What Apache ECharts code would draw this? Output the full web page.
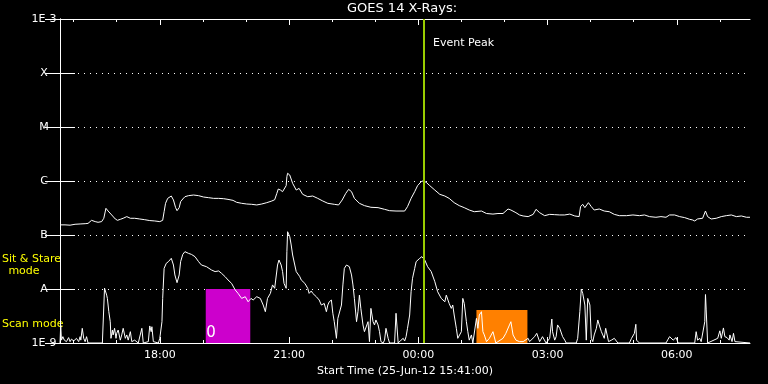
<!DOCTYPE html>
<html>
<head>
<meta charset="utf-8">
<script src="https://cdn.jsdelivr.net/npm/echarts@6/dist/echarts.min.js"></script>
<style>
html,body{margin:0;padding:0;background:#000;}
#chart{width:768px;height:384px;}
</style>
</head>
<body>
<div id="chart"></div>
<script>
// Time in minutes elapsed since the start time 25-Jun-12 15:41:00
const startClockMinutes = 941; // 15:41
const spanMinutes = 961;

// GOES 14 long channel (1-8 A), W/m^2
const longT = [0,7,14,21,28,35,39,44,49,53,58,61,64,67,72,77,80,84,88,93,98,104,111,118,125,132,139,143,145,147,150,152,155,158,161,163,166,168,171,174,179,186,193,200,207,214,221,228,234,241,246,253,260,267,274,281,288,295,299,302,304,307,310,312,315,316,317,320,324,329,333,338,345,352,359,366,373,382,388,393,398,402,406,410,417,424,433,443,452,459,468,480,484,489,494,498,503,506,510,515,522,529,536,542,549,556,563,570,577,587,594,603,610,617,624,628,635,640,645,652,659,663,668,675,682,689,696,703,710,717,723,725,728,731,736,740,744,751,758,765,772,779,789,798,807,814,821,830,837,844,849,856,863,870,877,881,884,888,895,899,902,907,914,921,928,935,942,949,956,961];
const longFlux = [1.54e-7,1.54e-7,1.52e-7,1.58e-7,1.6e-7,1.62e-7,1.64e-7,1.87e-7,1.77e-7,1.72e-7,1.77e-7,2.04e-7,3.12e-7,2.78e-7,2.35e-7,1.98e-7,1.87e-7,1.95e-7,2.04e-7,2.19e-7,2.04e-7,2.04e-7,1.98e-7,1.92e-7,1.85e-7,1.82e-7,1.77e-7,1.87e-7,2.7e-7,3.86e-7,4.77e-7,5.12e-7,5.27e-7,4.45e-7,3.21e-7,2.82e-7,3.21e-7,4.14e-7,4.64e-7,5.12e-7,5.35e-7,5.5e-7,5.35e-7,5.05e-7,4.91e-7,4.77e-7,4.77e-7,4.7e-7,4.57e-7,4.38e-7,4.03e-7,3.86e-7,3.75e-7,3.7e-7,3.6e-7,3.75e-7,3.97e-7,4.26e-7,4.5e-7,5.9e-7,7.1e-7,6.8e-7,6.35e-7,5.9e-7,8.2e-7,1.2e-6,1.39e-6,1.29e-6,9.05e-7,6.8e-7,7.3e-7,5.66e-7,5.12e-7,5.27e-7,4.77e-7,4.26e-7,3.86e-7,3.7e-7,3.6e-7,4.45e-7,5.9e-7,7.0e-7,6.35e-7,4.77e-7,3.86e-7,3.5e-7,3.26e-7,3.21e-7,2.99e-7,2.82e-7,2.78e-7,2.78e-7,3.35e-7,4.77e-7,6.35e-7,8.2e-7,9.7e-7,1.01e-6,9.45e-7,8.2e-7,6.8e-7,5.66e-7,5.27e-7,4.77e-7,3.97e-7,3.5e-7,3.21e-7,2.9e-7,2.7e-7,2.78e-7,2.5e-7,2.44e-7,2.5e-7,2.5e-7,3.03e-7,2.9e-7,2.59e-7,2.35e-7,2.25e-7,2.19e-7,2.41e-7,2.99e-7,2.59e-7,2.28e-7,2.41e-7,2.38e-7,2.35e-7,2.35e-7,2.44e-7,2.25e-7,2.19e-7,3.35e-7,3.7e-7,3.21e-7,3.97e-7,3.35e-7,2.9e-7,3.03e-7,2.78e-7,2.7e-7,2.41e-7,2.28e-7,2.28e-7,2.35e-7,2.28e-7,2.35e-7,2.19e-7,2.13e-7,2.19e-7,2.13e-7,2.35e-7,2.35e-7,2.19e-7,2.1e-7,1.95e-7,1.9e-7,1.82e-7,1.98e-7,2.04e-7,2.78e-7,2.19e-7,1.98e-7,2.04e-7,2.19e-7,2.28e-7,2.35e-7,2.19e-7,2.25e-7,2.13e-7,2.13e-7];

// GOES 14 short channel (0.5-4 A), W/m^2
const shortT = [0,1,2,4,6,7,9,12,14,16,19,21,23,26,28,29,31,33,35,37,39,59,62,64,65,66,68,70,71,73,74,76,78,79,81,84,86,88,91,93,95,98,100,102,104,109,114,116,123,125,127,128,130,137,139,142,143,145,148,151,155,158,160,163,166,168,171,174,179,183,188,193,197,204,211,216,221,225,230,234,239,244,248,253,258,262,266,269,274,279,283,286,289,293,296,299,303,305,308,310,312,315,316,317,320,322,324,327,329,331,334,336,338,341,343,345,347,350,352,354,357,359,361,364,366,368,371,373,375,378,380,382,385,387,389,392,394,396,399,401,403,406,408,410,413,415,417,419,422,424,426,429,431,433,436,438,440,443,445,447,450,452,454,457,459,466,468,471,475,478,480,482,484,487,489,491,494,496,501,504,508,512,517,522,526,531,533,536,538,540,542,545,547,549,552,554,556,559,561,563,566,568,570,573,575,580,582,584,587,589,591,594,598,603,607,617,621,626,628,631,635,640,645,652,654,661,664,668,672,677,682,685,686,689,691,693,696,698,700,703,705,719,721,724,726,728,731,733,735,738,740,742,744,747,749,751,754,756,758,760,762,764,768,772,777,793,796,798,800,802,803,807,844,847,849,851,854,858,861,884,886,888,891,893,895,898,899,900,902,916,919,921,924,926,929,932,933,936,938,940,942,961];
const shortFlux = [1e-9,2.16e-9,1.13e-9,1.31e-9,1.13e-9,1.22e-9,1.06e-9,1.26e-9,1.06e-9,1.18e-9,1.09e-9,1.06e-9,1.22e-9,1.06e-9,1.31e-9,1.13e-9,1.87e-9,1.22e-9,1.06e-9,1.31e-9,1e-9,1e-9,1.04e-8,1.04e-8,7.7e-9,6.7e-9,3.8e-9,2.48e-9,1.22e-9,1.74e-9,1.41e-9,1.87e-9,1.22e-9,1.51e-9,1.74e-9,1.13e-9,1.41e-9,1.87e-9,1.22e-9,1.41e-9,1.13e-9,1.62e-9,1.06e-9,1e-9,1.13e-9,1e-9,1.87e-9,1e-9,1.06e-9,2.07e-9,1.62e-9,2.0e-9,1.06e-9,1e-9,1.22e-9,2.48e-9,6.7e-9,2.41e-8,2.99e-8,3.21e-8,3.7e-8,2.78e-8,1.82e-8,1.31e-8,1.82e-8,3.21e-8,4.38e-8,4.91e-8,4.57e-8,4.38e-8,3.97e-8,3.21e-8,2.78e-8,2.59e-8,2.25e-8,2.1e-8,2.16e-8,1.95e-8,1.69e-8,1.47e-8,1.27e-8,9.6e-9,8.3e-9,6.7e-9,7.2e-9,5.8e-9,6.7e-9,6.25e-9,7.2e-9,6.7e-9,5.05e-9,3.8e-9,6.7e-9,8.3e-9,1.19e-8,1.03e-8,2.78e-8,3.44e-8,2.78e-8,2.1e-8,1.27e-8,1.03e-8,4.91e-8,1.15e-7,9.3e-8,6.53e-8,4.26e-8,2.78e-8,2.1e-8,2.25e-8,1.69e-8,1.47e-8,1.37e-8,1.27e-8,1.19e-8,1.03e-8,8.3e-9,9.2e-9,8.3e-9,7.7e-9,7.2e-9,6.7e-9,6.25e-9,5.05e-9,4.7e-9,5.4e-9,3.8e-9,5.05e-9,5.8e-9,6.25e-9,3.55e-9,2.48e-9,1.22e-9,2.86e-9,2.67e-9,5.05e-9,1.19e-8,2.41e-8,2.78e-8,2.86e-8,2.59e-8,1.82e-8,1.19e-8,6.7e-9,2.48e-9,3.8e-9,7.7e-9,4.38e-9,2.16e-9,1.62e-9,1.62e-9,2.48e-9,1.06e-9,4.38e-9,2.48e-9,2.16e-9,2.67e-9,2.16e-9,1.62e-9,1.06e-9,1e-9,1.13e-9,1.87e-9,1.22e-9,1e-9,1e-9,3.55e-9,1e-9,1.13e-9,1.22e-9,1.09e-9,1.31e-9,1.87e-9,3.3e-9,8.9e-9,1.58e-8,2.41e-8,3.21e-8,3.7e-8,3.97e-8,3.44e-8,2.59e-8,2.1e-8,1.37e-8,8.9e-9,6.7e-9,7.2e-9,5.8e-9,7.7e-9,8.3e-9,5.4e-9,4.38e-9,5.05e-9,3.3e-9,1.87e-9,1.22e-9,1.13e-9,1.62e-9,6.7e-9,5.4e-9,2.48e-9,1.62e-9,1.13e-9,1.41e-9,1e-9,2.86e-9,1.87e-9,3.3e-9,3.8e-9,1.62e-9,1.41e-9,1.06e-9,1.22e-9,1.62e-9,1e-9,1.22e-9,1.51e-9,2.16e-9,2.48e-9,1.41e-9,1.13e-9,1.06e-9,1.06e-9,1.22e-9,1.06e-9,1.31e-9,1.51e-9,1.06e-9,1.31e-9,1e-9,1.22e-9,2.78e-9,1.62e-9,1.13e-9,1.31e-9,2.16e-9,1.87e-9,2.0e-9,1.31e-9,1.13e-9,1e-9,1e-9,1.22e-9,3.8e-9,1e-8,8.3e-9,5.05e-9,1.13e-9,6.7e-9,5.05e-9,1.22e-9,1.06e-9,1.41e-9,1.87e-9,2.67e-9,2.16e-9,1.62e-9,1.41e-9,1.22e-9,1.87e-9,1.74e-9,1.06e-9,1.13e-9,1.22e-9,1e-9,1e-9,1.22e-9,1.31e-9,1.51e-9,2.22e-9,1.13e-9,1e-9,1e-9,1.18e-9,1.31e-9,1.41e-9,1.13e-9,1.26e-9,1e-9,1e-9,1.62e-9,1.13e-9,1.22e-9,1.06e-9,1e-9,2.48e-9,7.9e-9,4.1e-9,1e-9,1.22e-9,1.68e-9,1.22e-9,1.9e-9,1.31e-9,1.26e-9,1.13e-9,1.41e-9,1.06e-9,1.51e-9,1.06e-9,1e-9,1e-9];

// Observation mode boxes: [startMin, endMin, fluxLow, fluxHigh]
const sitStareBox = [203, 265, 1e-9, 1e-8];
const scanBox = [580, 651, 1e-9, 4.1e-9];
const boxColors = ['#cc00cc', '#ff8000'];

const eventPeakT = 506;

// Axis ticks / labels
const hourTicks = [19,79,139,199,259,319,379,439,499,559,619,679,739,799,859,919];
const majorTicks = [139,319,499,679,859];
const xTickLabels = ['18:00','21:00','00:00','03:00','06:00'];
const yTickLabels = ['1E-9','A','B','C','M','X','1E-3'];

const FONT = 'DejaVu Sans';

const chart = echarts.init(document.getElementById('chart'), null, {renderer:'canvas'});

function xAxisCfg(pos, ticks, len, withLine, withLabels) {
  return {
    type:'value', min:0, max:spanMinutes, position:pos, gridIndex:0,
    axisLine:{show:withLine, onZero:false, lineStyle:{color:'#fff', width:1}},
    axisTick:{show:true, inside:true, length:len, customValues:ticks, lineStyle:{color:'#fff', width:1}},
    axisLabel:withLabels ? {
      show:true, customValues:majorTicks, color:'#fff', fontSize:11, fontFamily:FONT, margin:7,
      formatter:function(v){ const i = majorTicks.indexOf(Math.round(v)); return i>=0 ? xTickLabels[i] : ''; }
    } : {show:false},
    splitLine:{show:false},
    name: withLabels ? 'Start Time (25-Jun-12 15:41:00)' : '',
    nameLocation:'middle', nameGap:19,
    nameTextStyle:{color:'#fff', fontSize:11, fontFamily:FONT}
  };
}

const option = {
  backgroundColor:'#000',
  animation:false,
  grid:{left:60, top:19, width:690, height:324, containLabel:false},
  xAxis:[
    xAxisCfg('bottom', majorTicks, 6, true, true),
    xAxisCfg('bottom', hourTicks, 3, false, false),
    xAxisCfg('top', majorTicks, 6, true, false),
    xAxisCfg('top', hourTicks, 3, false, false)
  ],
  yAxis:[
    {
      type:'log', logBase:10, min:1e-9, max:1e-3, splitNumber:6, position:'left',
      axisLine:{show:true, lineStyle:{color:'#fff', width:1}},
      axisTick:{show:true, inside:true, length:15, lineStyle:{color:'#fff', width:1}},
      axisLabel:{show:true, color:'#fff', fontSize:11, fontFamily:FONT, align:'center', margin:16,
        showMinLabel:true, showMaxLabel:true,
        formatter:function(v){ const i = Math.round(Math.log10(v)) + 9; return yTickLabels[i] || ''; }},
      splitLine:{show:true, lineStyle:{color:'#fff', width:1, type:[1,5]}}
    },
    {
      type:'log', logBase:10, min:1e-9, max:1e-3, splitNumber:6, position:'right',
      axisLine:{show:true, lineStyle:{color:'#fff', width:1}},
      axisTick:{show:true, inside:true, length:15, lineStyle:{color:'#fff', width:1}},
      axisLabel:{show:false},
      splitLine:{show:false}
    }
  ],
  series:[
    {
      type:'custom', xAxisIndex:0, yAxisIndex:0, z:1, silent:true,
      dimensions:['t1','t2','f1','f2'],
      encode:{x:[0,1], y:[2,3]},
      data:[sitStareBox, scanBox],
      renderItem:function(params, api){
        const p1 = api.coord([api.value(0), api.value(3)]);
        const p2 = api.coord([api.value(1), api.value(2)]);
        return {type:'rect', shape:{x:p1[0], y:p1[1], width:p2[0]-p1[0], height:p2[1]-p1[1]},
          style:{fill:boxColors[params.dataIndex]}};
      }
    },
    {
      type:'line', name:'long', xAxisIndex:0, yAxisIndex:0, z:3,
      data: longT.map((t,i)=>[t, longFlux[i]]),
      showSymbol:false, symbol:'none', silent:true,
      lineStyle:{color:'#fff', width:1},
      markLine:{silent:true, symbol:'none', label:{show:false},
        lineStyle:{color:'#99cc00', width:2, type:'solid'},
        data:[{xAxis:eventPeakT}]}
    },
    {
      type:'line', name:'short', xAxisIndex:0, yAxisIndex:0, z:3,
      data: shortT.map((t,i)=>[t, shortFlux[i]]),
      showSymbol:false, symbol:'none', silent:true,
      lineStyle:{color:'#fff', width:1}
    }
  ],
  graphic:[
    {type:'text', x:402, y:9, silent:true, style:{text:'GOES 14 X-Rays:', fill:'#fff', font:'13px "DejaVu Sans"', textAlign:'center', textVerticalAlign:'middle'}},
    {type:'text', x:433, y:43, silent:true, style:{text:'Event Peak', fill:'#fff', font:'11px "DejaVu Sans"', textAlign:'left', textVerticalAlign:'middle'}},
    {type:'text', x:2, y:259, silent:true, style:{text:'Sit & Stare', fill:'#ffff00', font:'11px "DejaVu Sans"', textAlign:'left', textVerticalAlign:'middle'}},
    {type:'text', x:24, y:271, silent:true, style:{text:'mode', fill:'#ffff00', font:'11px "DejaVu Sans"', textAlign:'center', textVerticalAlign:'middle'}},
    {type:'text', x:2, y:324, silent:true, style:{text:'Scan mode', fill:'#ffff00', font:'11px "DejaVu Sans"', textAlign:'left', textVerticalAlign:'middle'}},
    {type:'text', x:211, y:333, z:10, silent:true, style:{text:'0', fill:'#ffffff', font:'15px "DejaVu Sans"', textAlign:'center', textVerticalAlign:'middle'}}
  ]
};
chart.setOption(option);
</script>
</body>
</html>
